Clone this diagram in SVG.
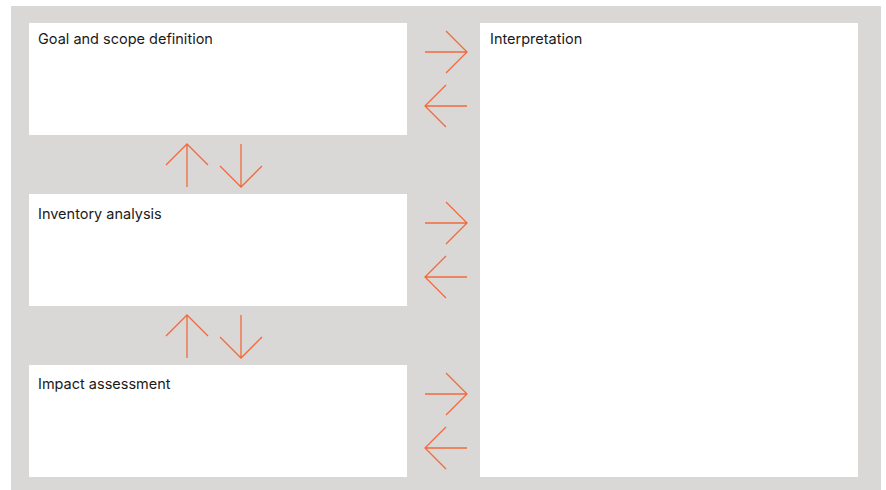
<svg xmlns="http://www.w3.org/2000/svg" width="886" height="490" viewBox="0 0 886 490">
<defs>
<style>
.box{fill:#ffffff}
.lbl{font-family:Inter,"Liberation Sans",sans-serif;font-size:14.5px;fill:#1a1a1a}
.arr{fill:none;stroke:#f26a3c;stroke-width:1.3;stroke-linecap:butt;stroke-linejoin:miter}
</style>
<g id="harr"><path class="arr" d="M425,0 H467 M446,-21 L467,0 L446,21"/></g>
<g id="harl"><path class="arr" d="M467,0 H425 M446,-21 L425,0 L446,21"/></g>
<g id="varu"><path class="arr" d="M187,43 V0 M166,21 L187,0 L208,21"/></g>
<g id="vard"><path class="arr" d="M241,0 V43 M220,22 L241,43 L262,22"/></g>
</defs>
<rect x="11" y="6" width="870" height="484" fill="#dad8d6"/>
<g id="goal"><rect class="box" x="29" y="23" width="378" height="112"/><text class="lbl" x="38" y="44">Goal and scope definition</text></g>
<g id="inventory"><rect class="box" x="29" y="194" width="378" height="112"/><text class="lbl" x="38" y="219">Inventory analysis</text></g>
<g id="impact"><rect class="box" x="29" y="365" width="378" height="112"/><text class="lbl" x="38" y="389">Impact assessment</text></g>
<g id="interpretation"><rect class="box" x="480" y="23" width="378" height="454"/><text class="lbl" x="490" y="44">Interpretation</text></g>
<g id="connectors">
<use href="#harr" y="52"/>
<use href="#harl" y="106"/>
<use href="#harr" y="223"/>
<use href="#harl" y="277"/>
<use href="#harr" y="394"/>
<use href="#harl" y="448"/>
<use href="#varu" y="144"/>
<use href="#vard" y="144"/>
<use href="#varu" y="315"/>
<use href="#vard" y="315"/>
</g>
</svg>
